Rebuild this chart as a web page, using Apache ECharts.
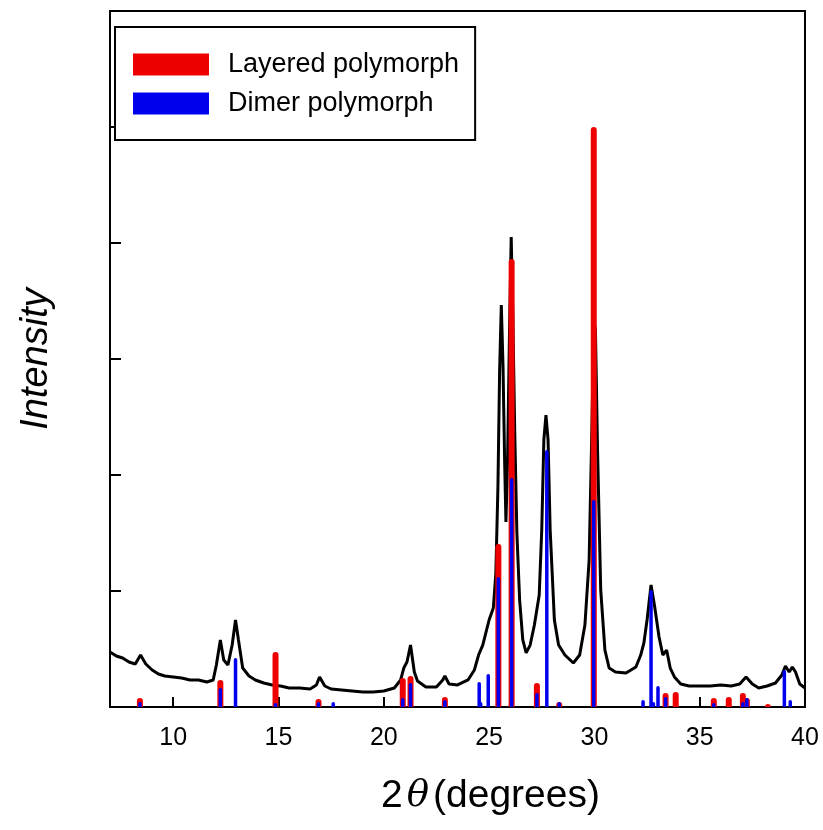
<!DOCTYPE html>
<html>
<head>
<meta charset="utf-8">
<script src="https://cdn.jsdelivr.net/npm/echarts@6/dist/echarts.min.js"></script>
<style>
  html, body { margin: 0; padding: 0; background: #fff; }
  #chart { width: 823px; height: 830px; }
</style>
</head>
<body>
<div id="chart"></div>
<script>
// measured pattern (black trace)
var twoTheta = [7.0, 7.3, 7.6, 7.9, 8.2, 8.45, 8.7, 9.0, 9.3, 9.6, 10.0, 10.4, 10.8, 11.2, 11.6, 11.9,
  12.05, 12.24, 12.4, 12.6, 12.8, 12.96, 13.1, 13.3, 13.6, 13.9, 14.3, 14.7, 15.1, 15.5, 16.0, 16.5,
  16.8, 16.95, 17.2, 17.5, 18.0, 18.5, 19.0, 19.5, 20.0, 20.5, 20.8, 20.95, 21.1, 21.27, 21.45, 21.6,
  22.0, 22.5, 22.8, 22.9, 23.1, 23.5, 24.0, 24.3, 24.5, 24.7, 25.0, 25.2, 25.32, 25.42, 25.5, 25.58,
  25.66, 25.74, 25.8, 25.88, 25.97, 26.05, 26.13, 26.22, 26.32, 26.45, 26.6, 26.76, 26.95, 27.15, 27.38,
  27.5, 27.6, 27.7, 27.8, 27.9, 28.1, 28.3, 28.6, 29.0, 29.3, 29.55, 29.75, 29.88, 29.97, 30.05, 30.15,
  30.3, 30.5, 30.7, 31.0, 31.5, 31.97, 32.2, 32.35, 32.5, 32.69, 32.85, 33.07, 33.25, 33.43, 33.6,
  33.8, 34.1, 34.5, 35.0, 35.5, 36.0, 36.5, 36.9, 37.2, 37.5, 37.8, 38.2, 38.6, 38.9, 39.07, 39.25,
  39.4, 39.55, 39.75, 40.0];
var intensity = [474, 440, 422, 388, 371, 448, 371, 319, 284, 267, 259, 250, 233, 233, 216, 233,
  362, 578, 405, 362, 534, 750, 578, 336, 267, 233, 207, 190, 181, 164, 164, 155,
  190, 259, 181, 155, 147, 138, 129, 129, 138, 164, 233, 336, 388, 534, 302, 224,
  172, 172, 233, 267, 198, 190, 233, 319, 448, 534, 750, 853, 1150, 1900, 2900, 3465,
  2950, 2100, 1595, 2150, 3250, 4051, 3350, 2350, 1500, 922, 578, 466, 534, 707, 965,
  1526, 2302, 2517, 2302, 1526, 750, 534, 448, 379, 448, 707, 1267, 2388, 3336, 3250, 2215,
  1009, 491, 336, 302, 293, 345, 448, 552, 750, 1052, 879, 603, 448, 491, 336,
  259, 198, 181, 181, 181, 190, 181, 198, 259, 198, 164, 181, 207, 276, 353, 302,
  345, 302, 198, 164];

// reference sticks
var layeredPos = [8.42, 12.24, 14.86, 16.9, 20.9, 21.27, 22.9, 25.44, 26.07, 27.27, 28.33, 29.97,
  33.38, 33.86, 35.67, 36.38, 37.05, 37.24, 38.24];
var layeredInt = [78, 233, 474, 69, 250, 267, 86, 1405, 3862, 207, 43, 5000,
  121, 129, 78, 86, 121, 78, 26];
var dimerPos = [8.42, 12.24, 12.96, 14.86, 16.9, 17.6, 20.9, 21.27, 22.9, 24.53, 24.6, 24.96, 25.44,
  26.07, 27.27, 27.74, 28.33, 29.97, 32.31, 32.69, 32.8, 33.02, 33.38, 35.67, 37.05, 37.24, 39.02, 39.3];
var dimerInt = [43, 164, 422, 34, 43, 43, 78, 207, 60, 216, 43, 284, 1121,
  1974, 121, 2215, 43, 1784, 60, 1009, 43, 181, 86, 34, 43, 78, 319, 60];

var xTicks = [10, 15, 20, 25, 30, 35, 40];

var font = "Arial, 'Liberation Sans', sans-serif";

function zip(a, b) {
  return a.map(function(v, i) { return [v, b[i]]; });
}

function stickRenderer(width, color) {
  return function(params, api) {
    var top = api.coord([api.value(0), api.value(1)]);
    var bot = api.coord([api.value(0), 0]);
    return {
      type: 'rect',
      shape: { x: top[0] - width / 2, y: top[1], width: width, height: bot[1] - top[1], r: [width / 2, width / 2, 0, 0] },
      style: { fill: color }
    };
  };
}

var chart = echarts.init(document.getElementById('chart'));

var option = {
  animation: false,
  backgroundColor: '#fff',
  grid: {
    left: 110, right: 18, top: 11, bottom: 123,
    outerBoundsMode: 'none',
    show: true, borderColor: '#000', borderWidth: 2, backgroundColor: 'transparent'
  },
  legend: {
    orient: 'vertical',
    left: 115, top: 27,
    padding: [24, 16, 23, 18],
    itemGap: 12,
    itemWidth: 76, itemHeight: 22,
    icon: 'rect',
    backgroundColor: '#fff',
    borderColor: '#000', borderWidth: 2, borderRadius: 0,
    textStyle: { fontFamily: font, fontSize: 27, color: '#000', lineHeight: 22, padding: [0, 0, 0, 14] },
    data: ['Layered polymorph', 'Dimer polymorph']
  },
  xAxis: {
    type: 'value',
    min: 7, max: 40,
    name: '2{t|θ}(degrees)',
    nameLocation: 'middle',
    nameGap: 70,
    nameTextStyle: {
      fontFamily: font, fontSize: 39, color: '#000',
      padding: [0, 0, 0, 66],
      rich: { t: { fontFamily: 'DejaVu Serif', fontStyle: 'italic', fontSize: 37, color: '#000', padding: [0, 4, 0, 4] } }
    },
    axisLine: { lineStyle: { color: '#000', width: 2 } },
    axisTick: { inside: true, length: 10, customValues: xTicks, lineStyle: { color: '#000', width: 2 } },
    axisLabel: { customValues: xTicks, margin: 19, fontFamily: font, fontSize: 25, color: '#000' },
    splitLine: { show: false }
  },
  yAxis: {
    type: 'value',
    min: 0, max: 6000, interval: 1000,
    name: 'Intensity',
    nameLocation: 'middle',
    nameGap: 55,
    nameTextStyle: { fontFamily: font, fontStyle: 'italic', fontSize: 38, color: '#000' },
    axisLine: { lineStyle: { color: '#000', width: 2 } },
    axisTick: { inside: true, length: 11, lineStyle: { color: '#000', width: 2 } },
    axisLabel: { show: false },
    splitLine: { show: false }
  },
  series: [
    {
      name: 'Pattern',
      type: 'line',
      data: zip(twoTheta, intensity),
      showSymbol: false,
      lineStyle: { color: '#000', width: 3 },
      z: 2
    },
    {
      name: 'Layered polymorph',
      type: 'custom',
      data: zip(layeredPos, layeredInt),
      encode: { x: 0, y: 1 },
      itemStyle: { color: '#ee0000' },
      renderItem: stickRenderer(6, '#ee0000'),
      z: 3
    },
    {
      name: 'Dimer polymorph',
      type: 'custom',
      data: zip(dimerPos, dimerInt),
      encode: { x: 0, y: 1 },
      itemStyle: { color: '#0000ee' },
      renderItem: stickRenderer(3.5, '#0000ee'),
      z: 4
    }
  ]
};

chart.setOption(option);
</script>
</body>
</html>
